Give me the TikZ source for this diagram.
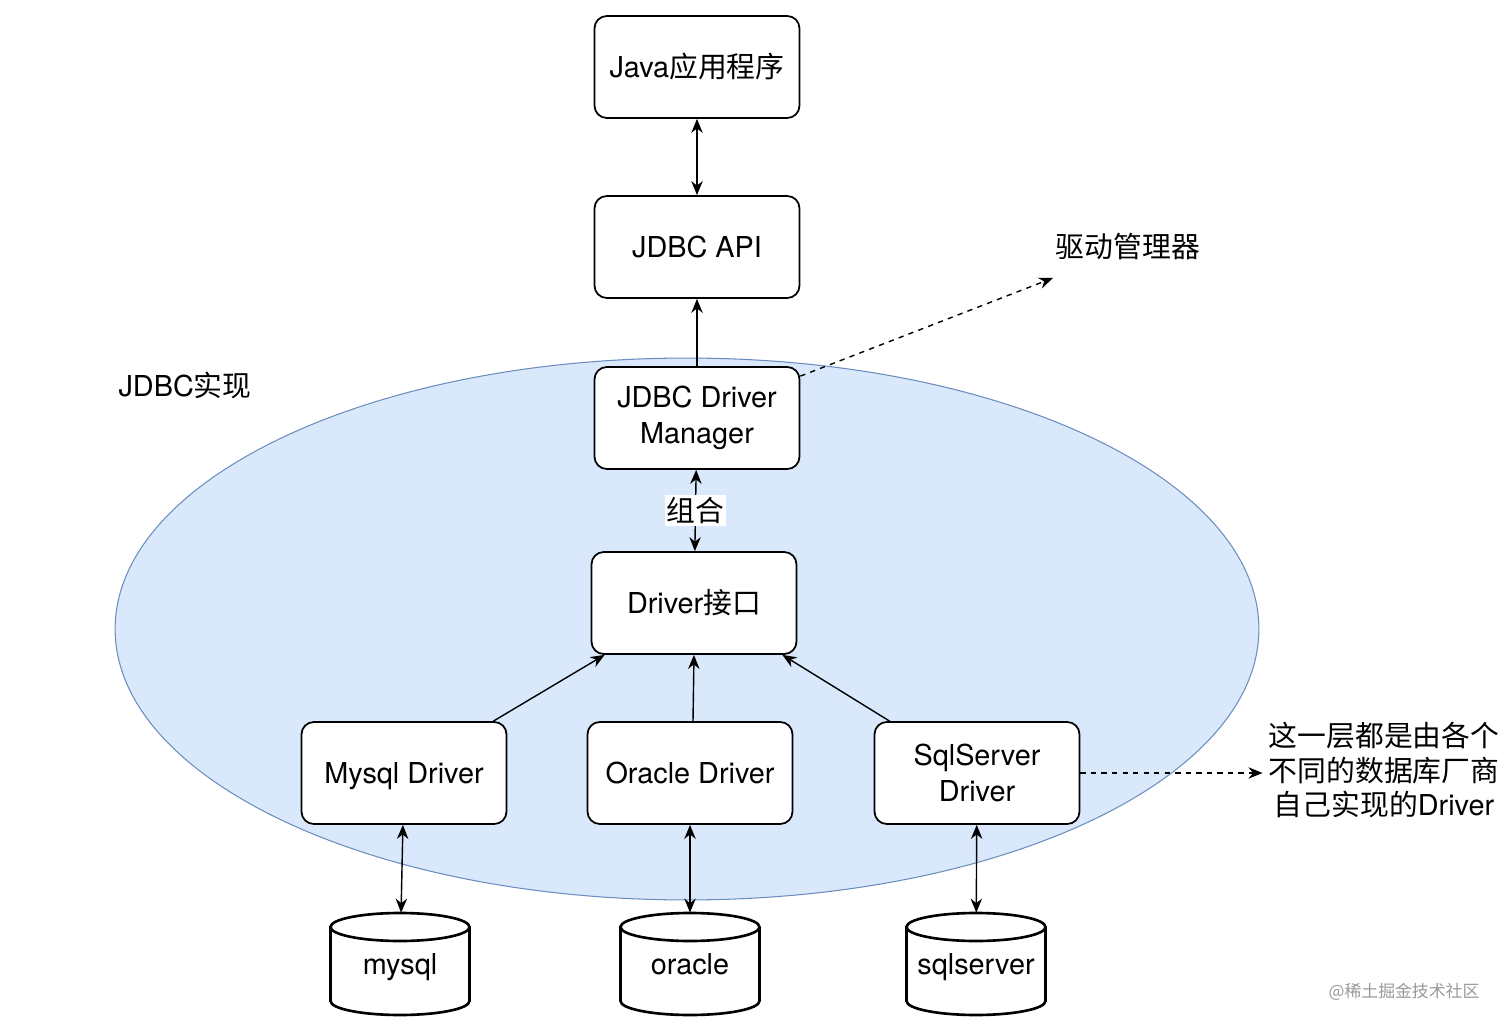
\documentclass[tikz,border=0pt]{standalone}
\usepackage{fontspec}
\setmainfont{TeX Gyre Heros}
\newfontfamily\cjk{Noto Sans CJK SC}
\usepackage{xcolor}
\usetikzlibrary{arrows.meta,calc}
\definecolor{areafill}{HTML}{DAE8FC}
\definecolor{arealine}{HTML}{6C8EBF}

\begin{document}
\begin{tikzpicture}[x=0.02cm,y=-0.02cm,>={Stealth[length=8pt,width=6.5pt]},
 font=\fontsize{16.4}{20.4}\selectfont,
 mod/.style={draw,rounded corners=7pt,fill=white,line width=1pt,minimum width=4.1cm,minimum height=2.04cm,align=center,inner sep=2pt},
 oneline/.style={text height=15pt,text depth=3pt},
 link/.style={->,line width=0.8pt},
 note/.style={->,line width=0.8pt,dash pattern=on 3pt off 3pt},
 dbcyl/.style={draw,fill=white,line width=1.5pt}]
 \useasboundingbox (0,0) rectangle (1512,1030);
 % JDBC implementation area
 \draw[draw=arealine,fill=areafill,line width=0.6pt] (687,629) ellipse [x radius=11.44cm,y radius=5.42cm];
 \node (impl) at (185,385) {JDBC{\cjk 实现}};
 % layers
 \node[mod,oneline] (java) at (697,67) {Java{\cjk 应用程序}};
 \node[mod,oneline] (api) at (697,247) {JDBC API};
 \node[mod] (dm) at (697,418) {JDBC Driver\\Manager};
 \node[mod,oneline] (drv) at (694,603) {Driver{\cjk 接口}};
 \node[mod,oneline] (mdrv) at (404,773) {Mysql Driver};
 \node[mod,oneline] (odrv) at (690,773) {Oracle Driver};
 \node[mod] (sdrv) at (977,773) {SqlServer\\Driver};
 % databases
 \foreach \n/\x/\t in {mysql/400/mysql,oracle/690/oracle,sqlsrv/976/sqlserver} {
   \draw[dbcyl] (\x-69.5,927) -- (\x-69.5,1001) arc[start angle=180,end angle=360,x radius=1.39cm,y radius=0.28cm]
     -- (\x+69.5,927) arc[start angle=0,end angle=180,x radius=1.39cm,y radius=0.28cm] -- cycle;
   \draw[dbcyl,fill=none] (\x-69.5,927) arc[start angle=180,end angle=360,x radius=1.39cm,y radius=0.28cm];
   \node[oneline,minimum width=2.78cm,minimum height=2.04cm,inner sep=0pt] (\n) at (\x,964) {\t};
 }
 % connectors
 \draw[link,<->] (java) -- (api);
 \draw[link] (dm) -- (api);
 \draw[link,<->] (dm) -- node[fill=white,inner sep=1pt] (combo) {\cjk 组合} (drv);
 \draw[link] ($(mdrv.north east)+(-14,0)$) -- ($(drv.south west)+(14,0)$);
 \draw[link] ($(odrv.north)+(3,0)$) -- (drv.south);
 \draw[link] ($(sdrv.north west)+(16,0)$) -- ($(drv.south east)+(-15,0)$);
 \foreach \a/\b in {mdrv/mysql,odrv/oracle,sdrv/sqlsrv}
   \draw[link,<->] (\a) -- (\b);
 % notes
 \node (mgr) at (1128,247) {\cjk 驱动管理器};
 \coordinate (mgrtip) at (1053,278);
 \draw[note] ($(dm.north east)+(0,10)$) -- (mgrtip);
 \node[align=center,font=\cjk\fontsize{16.4}{19.8}\selectfont] (vendor) at (1384,770) {这一层都是由各个\\不同的数据库厂商\\自己实现的{\normalfont Driver}};
 \draw[note] (sdrv.east) -- (sdrv.east -| vendor.west);
 \node[text=black!40,font=\cjk\fontsize{9.6}{11}\selectfont] (mark) at (1404,992) {@稀土掘金技术社区};
\end{tikzpicture}
\end{document}
